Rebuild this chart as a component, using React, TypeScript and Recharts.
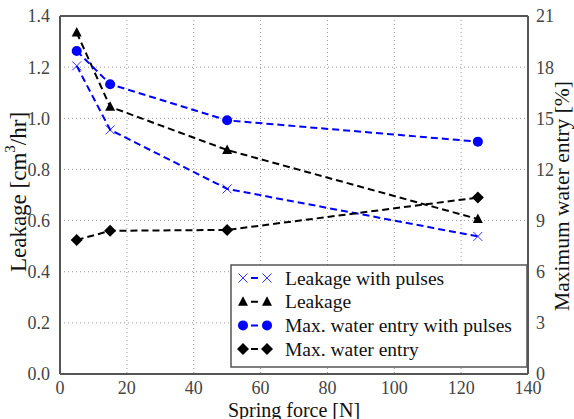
import {
  CartesianGrid,
  ComposedChart,
  Line,
  ReferenceLine,
  XAxis,
  YAxis,
} from "recharts";

const springForce = [5, 15, 50, 125];
const leakagePulses = [1.205, 0.955, 0.724, 0.538];
const leakage = [1.335, 1.045, 0.876, 0.606];
const waterEntryPulses = [18.95, 17.0, 14.88, 13.63];
const waterEntry = [7.86, 8.4, 8.45, 10.35];

const xTicks = [0, 20, 40, 60, 80, 100, 120, 140];
const leftTicks = [0, 0.2, 0.4, 0.6, 0.8, 1.0, 1.2, 1.4];
const rightTicks = [0, 3, 6, 9, 12, 15, 18, 21];

const data = springForce.map((f, i) => ({
  force: f,
  leakagePulses: leakagePulses[i],
  leakage: leakage[i],
  waterEntryPulses: waterEntryPulses[i],
  waterEntry: waterEntry[i],
}));

const FONT = "Liberation Serif";
const BLUE = "#0000ff";
const BLACK = "#000000";
const AXIS = "#555555";
const DASH = "7 4";

type Shape = "x" | "triangle" | "circle" | "diamond";

const series: Array<{ key: string; name: string; color: string; shape: Shape; axis: string }> = [
  { key: "leakagePulses", name: "Leakage with pulses", color: BLUE, shape: "x", axis: "left" },
  { key: "leakage", name: "Leakage", color: BLACK, shape: "triangle", axis: "left" },
  { key: "waterEntryPulses", name: "Max. water entry with pulses", color: BLUE, shape: "circle", axis: "right" },
  { key: "waterEntry", name: "Max. water entry", color: BLACK, shape: "diamond", axis: "right" },
];

function Marker({ cx, cy, shape, color }: { cx: number; cy: number; shape: Shape; color: string }) {
  if (cx == null || cy == null) return null;
  if (shape === "x") {
    const s = 4.5;
    return (
      <g stroke={color} strokeWidth={1} opacity={0.8}>
        <line x1={cx - s} y1={cy - s} x2={cx + s} y2={cy + s} />
        <line x1={cx - s} y1={cy + s} x2={cx + s} y2={cy - s} />
      </g>
    );
  }
  if (shape === "triangle") {
    return <polygon points={`${cx},${cy - 5.5} ${cx - 5},${cy + 4} ${cx + 5},${cy + 4}`} fill={color} />;
  }
  if (shape === "circle") {
    return <circle cx={cx} cy={cy} r={5} fill={color} />;
  }
  return <polygon points={`${cx},${cy - 6} ${cx + 6},${cy} ${cx},${cy + 6} ${cx - 6},${cy}`} fill={color} />;
}

// legend drawn as an overlay so it does not eat into the plot area
function LegendBox() {
  return (
    <svg width={574} height={419} style={{ position: "absolute", left: 0, top: 0, pointerEvents: "none" }}>
      <rect x={231} y={265} width={296} height={102} fill="#fff" stroke={AXIS} strokeWidth={1.5} />
      {series.map((s, i) => {
        const y = 278 + i * 23.7;
        return (
          <g key={s.key}>
            <line x1={243} y1={y} x2={267} y2={y} stroke={s.color} strokeWidth={2} strokeDasharray="0 8 7 20" />
            <Marker cx={243} cy={y} shape={s.shape} color={s.color} />
            <Marker cx={267} cy={y} shape={s.shape} color={s.color} />
            <text x={285} y={y} dominantBaseline="central" fontFamily={FONT} fontSize={19.5} fill="#111">
              {s.name}
            </text>
          </g>
        );
      })}
    </svg>
  );
}

function LeftLabel({ viewBox }: any) {
  const cy = viewBox.y + viewBox.height / 2 - 3;
  return (
    <text
      x={18}
      y={cy}
      transform={`rotate(-90, 18, ${cy})`}
      textAnchor="middle"
      dominantBaseline="central"
      fontFamily={FONT}
      fontSize={23}
      fill="#111"
    >
      Leakage [cm
      <tspan fontSize={15} dy={-8}>3</tspan>
      <tspan dy={8}>/hr]</tspan>
    </text>
  );
}

function RightLabel({ viewBox }: any) {
  const cy = viewBox.y + viewBox.height / 2 + 1;
  return (
    <text
      x={562}
      y={cy}
      transform={`rotate(-90, 562, ${cy})`}
      textAnchor="middle"
      dominantBaseline="central"
      fontFamily={FONT}
      fontSize={21.5}
      fill="#111"
    >
      Maximum water entry [%]
    </text>
  );
}

function BottomLabel({ viewBox }: any) {
  const cx = viewBox.x + viewBox.width / 2;
  return (
    <text x={cx} y={409.5} textAnchor="middle" dominantBaseline="central" fontFamily={FONT} fontSize={20} fill="#111">
      Spring force [N]
    </text>
  );
}

const tickStyle = { fontFamily: FONT, fontSize: 18, fill: "#444" };

export default function App() {
  return (
    <div style={{ position: "fixed", left: 0, top: 0, width: 574, height: 419, background: "#fff" }}>
      <ComposedChart width={574} height={419} data={data} margin={{ top: 16, right: 0, left: 0, bottom: 0 }}>
        <CartesianGrid yAxisId="left" stroke="#999" strokeDasharray="1 3" />
        <XAxis
          dataKey="force"
          type="number"
          domain={[0, 140]}
          ticks={xTicks}
          height={45}
          tick={tickStyle}
          tickLine={false}
          axisLine={{ stroke: AXIS, strokeWidth: 2 }}
          tickMargin={1}
          label={<BottomLabel />}
        />
        <YAxis
          yAxisId="left"
          domain={[0, 1.4]}
          ticks={leftTicks}
          width={60}
          tick={tickStyle}
          tickFormatter={(v: number) => v.toFixed(1)}
          tickLine={false}
          tickMargin={4}
          axisLine={{ stroke: AXIS, strokeWidth: 2 }}
          label={<LeftLabel />}
        />
        <YAxis
          yAxisId="right"
          orientation="right"
          domain={[0, 21]}
          ticks={rightTicks}
          width={46}
          tick={tickStyle}
          tickLine={false}
          tickMargin={2}
          axisLine={{ stroke: AXIS, strokeWidth: 2 }}
          label={<RightLabel />}
        />
        <ReferenceLine yAxisId="left" y={1.4} stroke={AXIS} strokeWidth={2} />
        {series.map((s) => (
          <Line
            key={s.key}
            yAxisId={s.axis}
            dataKey={s.key}
            name={s.name}
            type="linear"
            stroke={s.color}
            strokeWidth={2}
            strokeDasharray={DASH}
            dot={(p: any) => <Marker key={p.index} cx={p.cx} cy={p.cy} shape={s.shape} color={s.color} />}
            activeDot={false}
            isAnimationActive={false}
          />
        ))}
      </ComposedChart>
      <LegendBox />
    </div>
  );
}
